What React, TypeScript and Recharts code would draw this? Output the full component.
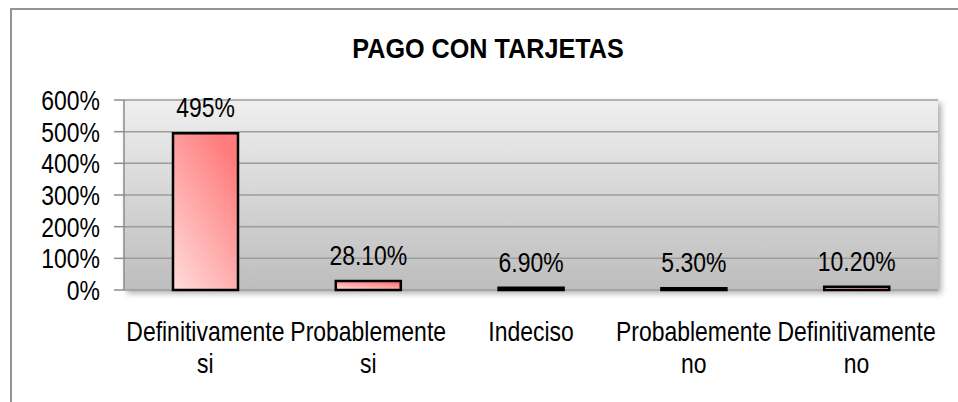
import React from 'react';
import { BarChart, Bar, XAxis, YAxis, CartesianGrid, LabelList } from 'recharts';

// categories and values
const categories = [
  'Definitivamente si',
  'Probablemente si',
  'Indeciso',
  'Probablemente no',
  'Definitivamente no',
];
const percentValues = [495, 28.1, 6.9, 5.3, 10.2];
const valueLabels = ['495%', '28.10%', '6.90%', '5.30%', '10.20%'];
const yTicks = [0, 100, 200, 300, 400, 500, 600];
const edgeTicks = [0, 1, 2, 3, 4, 5];

// no Arial Narrow installed: Liberation Sans squeezed horizontally instead
const FONT = "'Liberation Sans', Arial, sans-serif";
const SQUEEZE = 0.82;
const FONT_SIZE = 28;

const data = categories.map((name, i) => ({
  name,
  value: percentValues[i],
  label: valueLabels[i],
}));

const NarrowText = ({ x, y, anchor = 'middle', children, size = FONT_SIZE, weight = 'normal', squeeze = SQUEEZE }: any) => (
  <text
    transform={`translate(${x},${y}) scale(${squeeze},1)`}
    x={0}
    y={0}
    textAnchor={anchor}
    fontFamily={FONT}
    fontSize={size}
    fontWeight={weight}
    fill="#000"
  >
    {children}
  </text>
);

const CategoryTick = (props: any) => {
  const { x, y, payload } = props;
  const words = String(payload.value).split(' ');
  return (
    <g>
      {words.map((w, i) => (
        <NarrowText key={i} x={x} y={y + 51 + i * 32}>
          {w}
        </NarrowText>
      ))}
    </g>
  );
};

const PercentTick = (props: any) => {
  const { x, y, payload } = props;
  return (
    <NarrowText x={x} y={y + 10} anchor="end">
      {`${payload.value}%`}
    </NarrowText>
  );
};

const ValueLabel = (props: any) => {
  const { x, y, width, value } = props;
  return (
    <NarrowText x={x + width / 2} y={y - 16}>
      {value}
    </NarrowText>
  );
};

export default function App() {
  return (
    <div
      style={{
        position: 'relative',
        width: 958,
        height: 402,
        overflow: 'hidden',
        background: '#fff',
      }}
    >
      <style>{`
        body { margin: 0; }
        .recharts-cartesian-grid-bg { filter: drop-shadow(3px 3px 3px rgba(0,0,0,0.35)); }
      `}</style>
      {/* outer chart frame */}
      <div
        style={{
          position: 'absolute',
          left: 10,
          top: 8,
          width: 1000,
          height: 500,
          border: '2px solid #939393',
        }}
      />
      <svg width={958} height={80} style={{ position: 'absolute', left: 0, top: 0 }}>
        <NarrowText x={488} y={58} weight="bold" squeeze={0.9}>
          PAGO CON TARJETAS
        </NarrowText>
      </svg>
      <div style={{ position: 'absolute', left: 0, top: 0 }}>
        <BarChart
          width={958}
          height={402}
          data={data}
          margin={{ top: 100, right: 20, bottom: 12, left: 10 }}
        >
          <defs>
            <linearGradient id="plotBg" x1="0" y1="0" x2="0" y2="1">
              <stop offset="0%" stopColor="#efefef" />
              <stop offset="100%" stopColor="#bdbdbd" />
            </linearGradient>
            <linearGradient id="barFill" x1="0" y1="1" x2="0.7" y2="0">
              <stop offset="0%" stopColor="#ffdcdc" />
              <stop offset="100%" stopColor="#ff7b7b" />
            </linearGradient>
          </defs>
          <CartesianGrid
            vertical={false}
            stroke="#9c9c9c"
            strokeWidth={1.5}
            fill="url(#plotBg)"
            fillOpacity={1}
          />
          <XAxis
            xAxisId="edges"
            type="number"
            domain={[0, 5]}
            ticks={edgeTicks}
            allowDataOverflow
            tick={false}
            height={0}
            tickSize={6}
            axisLine={{ stroke: '#8c8c8c', strokeWidth: 1.5 }}
            tickLine={{ stroke: '#8c8c8c', strokeWidth: 1.5 }}
          />
          <XAxis
            xAxisId="cat"
            dataKey="name"
            height={100}
            axisLine={false}
            tickLine={false}
            tickSize={0}
            tickMargin={0}
            interval={0}
            tick={<CategoryTick />}
          />
          <YAxis
            width={114}
            domain={[0, 600]}
            ticks={yTicks}
            interval={0}
            tickSize={10}
            tickMargin={14}
            axisLine={{ stroke: '#8c8c8c', strokeWidth: 1.5 }}
            tickLine={{ stroke: '#8c8c8c', strokeWidth: 1.5 }}
            tick={<PercentTick />}
          />
          <Bar
            xAxisId="cat"
            dataKey="value"
            barSize={65}
            fill="url(#barFill)"
            stroke="#000"
            strokeWidth={2.5}
            isAnimationActive={false}
          >
            <LabelList dataKey="label" content={<ValueLabel />} />
          </Bar>
        </BarChart>
      </div>
    </div>
  );
}
